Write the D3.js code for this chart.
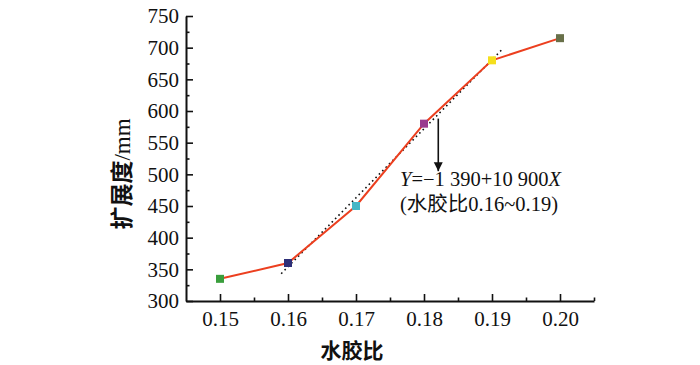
<!DOCTYPE html>
<html>
<head>
<meta charset="utf-8">
<script src="https://cdn.jsdelivr.net/npm/d3@7"></script>
<style>
  body { margin: 0; background: #fff; }
  svg text { font-family: "Liberation Serif", "Times New Roman", serif; fill: #111; }
  .cjk { font-family: "Noto Sans CJK SC", sans-serif; }
</style>
</head>
<body>
<svg id="chart" width="700" height="365"></svg>
<script>
// water-binder ratio vs spread
let ratios = [0.15, 0.16, 0.17, 0.18, 0.19, 0.20];
let spread = [335, 360, 450, 580, 680, 715];
let markerColors = ["#3a9e3c", "#2e2f78", "#46b6c6", "#9a3a8e", "#f5df1c", "#687049"];
let yTickValues = [300, 350, 400, 450, 500, 550, 600, 650, 700, 750];
let xTickValues = [0.15, 0.16, 0.17, 0.18, 0.19, 0.20];
let fitIntercept = -1390;
let fitSlope = 10900;
let fitRange = [0.159, 0.1915];
let arrowFrom = [0.1821, 588];
let arrowTo = [0.1821, 505];

let svg = d3.select("#chart");

let x = d3.scaleLinear()
    .domain([0.145, 0.205])
    .range([186, 594]);

let y = d3.scaleLinear()
    .domain([300, 750])
    .range([301, 16]);

// minor ticks
let yMinor = d3.range(325, 750, 50);
let xMinor = d3.range(0.155, 0.21, 0.01);

svg.append("g")
    .attr("transform", `translate(${x.range()[0]},0)`)
    .call(d3.axisLeft(y).tickValues(yMinor).tickSize(-3.5).tickSizeOuter(0).tickFormat(""))
    .call(g => g.select(".domain").remove())
    .selectAll("line").attr("stroke", "#111").attr("stroke-width", 1.6);

svg.append("g")
    .attr("transform", `translate(0,${y.range()[0]})`)
    .call(d3.axisBottom(x).tickValues(xMinor).tickSize(-3.5).tickSizeOuter(0).tickFormat(""))
    .call(g => g.select(".domain").remove())
    .selectAll("line").attr("stroke", "#111").attr("stroke-width", 1.6);

let yAxis = svg.append("g")
    .attr("transform", `translate(${x.range()[0]},0)`)
    .call(d3.axisLeft(y).tickValues(yTickValues).tickSize(-7).tickSizeOuter(0).tickPadding(7));

let xAxis = svg.append("g")
    .attr("transform", `translate(0,${y.range()[0]})`)
    .call(d3.axisBottom(x).tickValues(xTickValues).tickSize(-7).tickSizeOuter(0)
        .tickPadding(10).tickFormat(d3.format(".2f")));

[yAxis, xAxis].forEach(function(a) {
    a.select(".domain").attr("stroke", "#111").attr("stroke-width", 2);
    a.selectAll(".tick line").attr("stroke", "#111").attr("stroke-width", 1.6);
    a.selectAll(".tick text")
        .style("font-size", "21px")
        .style("font-family", "'Liberation Serif', 'Times New Roman', serif")
        .attr("fill", "#111");
});

// fit line (dotted)
svg.append("line")
    .attr("x1", x(fitRange[0]))
    .attr("y1", y(fitIntercept + fitSlope * fitRange[0]))
    .attr("x2", x(fitRange[1]))
    .attr("y2", y(fitIntercept + fitSlope * fitRange[1]))
    .attr("stroke", "#111")
    .attr("stroke-width", 1.6)
    .attr("stroke-dasharray", "1.6,3.2");

let points = ratios.map(function(r, i) { return {r: r, v: spread[i], c: markerColors[i]}; });

let line = d3.line()
    .x(function(d) { return x(d.r); })
    .y(function(d) { return y(d.v); });

svg.append("path")
    .datum(points)
    .attr("d", line)
    .attr("fill", "none")
    .attr("stroke", "#ec3f1f")
    .attr("stroke-width", 2);

let size = 8;
svg.selectAll("rect.marker")
    .data(points)
    .join("rect")
    .attr("class", "marker")
    .attr("x", function(d) { return x(d.r) - size/2; })
    .attr("y", function(d) { return y(d.v) - size/2; })
    .attr("width", size)
    .attr("height", size)
    .attr("fill", function(d) { return d.c; });

// arrow
svg.append("defs").append("marker")
    .attr("id", "head")
    .attr("viewBox", "0 0 10 10")
    .attr("refX", 10).attr("refY", 5)
    .attr("markerWidth", 9).attr("markerHeight", 12)
    .attr("markerUnits", "userSpaceOnUse")
    .attr("orient", "auto")
    .append("path")
    .attr("d", "M0,0 L10,5 L0,10 Z")
    .attr("fill", "#111");

svg.append("line")
    .attr("x1", x(arrowFrom[0]))
    .attr("y1", y(arrowFrom[1]))
    .attr("x2", x(arrowTo[0]))
    .attr("y2", y(arrowTo[1]))
    .attr("stroke", "#111")
    .attr("stroke-width", 1.6)
    .attr("marker-end", "url(#head)");

// equation
let eq = svg.append("text")
    .attr("x", 400)
    .attr("y", 186)
    .style("font-size", "20.5px");
eq.append("tspan").style("font-style", "italic").text("Y");
eq.append("tspan").text("=\u22121 390+10 900");
eq.append("tspan").style("font-style", "italic").text("X");

let eq2 = svg.append("text")
    .attr("x", 400)
    .attr("y", 211)
    .style("font-size", "20.5px");
eq2.append("tspan").text("(");
eq2.append("tspan").attr("class", "cjk").text("水胶比");
eq2.append("tspan").text("0.16~0.19)");

// axis titles
let yTitle = svg.append("text")
    .attr("transform", "translate(130,174) rotate(-90)")
    .attr("text-anchor", "middle")
    .style("font-size", "23px");
yTitle.append("tspan").attr("class", "cjk").style("font-weight", "bold").text("扩展度");
yTitle.append("tspan").text("/mm");

svg.append("text")
    .attr("class", "cjk")
    .attr("x", 352)
    .attr("y", 358)
    .attr("text-anchor", "middle")
    .style("font-size", "21px")
    .style("font-weight", "bold")
    .text("水胶比");
</script>
</body>
</html>
